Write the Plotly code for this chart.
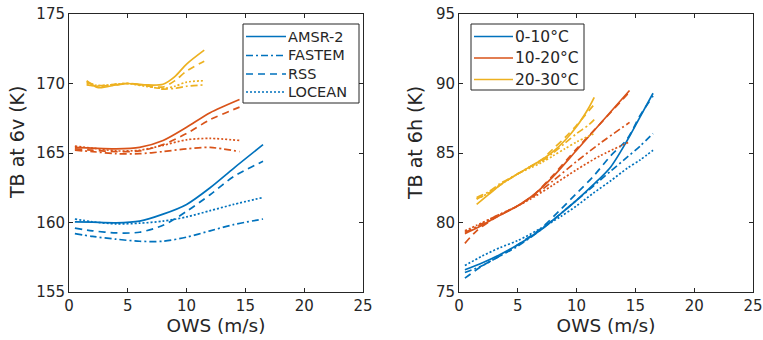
import plotly.graph_objects as go
from plotly.subplots import make_subplots

# ---------------- data ----------------
sensors = ["AMSR-2", "FASTEM", "RSS", "LOCEAN"]
temp_labels = ["0-10°C", "10-20°C", "20-30°C"]

# Left panel: TB at 6v (K)
v_x_cold = [0.5, 2, 4, 6, 8, 10, 12, 14, 16.5]
v_cold_amsr = [160.05, 160.02, 159.98, 160.1, 160.6, 161.3, 162.5, 163.9, 165.6]
v_cold_fastem = [159.2, 159.0, 158.8, 158.65, 158.65, 158.95, 159.4, 159.85, 160.25]
v_cold_rss = [159.6, 159.4, 159.25, 159.3, 159.8, 160.8, 162.0, 163.3, 164.4]
v_cold_locean = [160.25, 160.05, 159.9, 159.95, 160.1, 160.4, 160.85, 161.3, 161.8]

v_x_mid = [0.5, 2, 4, 6, 8, 10, 12, 14.5]
v_mid_amsr = [165.4, 165.35, 165.3, 165.4, 165.9, 166.85, 167.9, 168.85]
v_mid_fastem = [165.2, 165.1, 164.95, 164.95, 165.1, 165.3, 165.4, 165.1]
v_mid_rss = [165.3, 165.2, 165.1, 165.15, 165.6, 166.4, 167.4, 168.3]
v_mid_locean = [165.5, 165.35, 165.15, 165.2, 165.55, 165.95, 166.05, 165.9]

v_x_warm = [1.5, 2.5, 4, 5, 6.5, 8, 9, 10, 11.5]
v_warm_amsr = [170.2, 169.7, 169.9, 170.0, 169.9, 169.95, 170.5, 171.4, 172.4]
v_warm_fastem = [169.9, 169.8, 169.9, 170.0, 169.85, 169.6, 169.65, 169.8, 169.9]
v_warm_rss = [170.1, 169.85, 169.95, 170.0, 169.85, 169.75, 170.2, 170.9, 171.6]
v_warm_locean = [170.0, 169.85, 169.95, 170.0, 169.8, 169.65, 169.8, 170.1, 170.2]

# Right panel: TB at 6h (K)
h_x_cold = [0.5, 2, 3.5, 5, 7, 8.6, 10, 11.4, 12.9, 14.3, 15.4, 16.5]
h_cold_amsr = [76.6, 77.1, 77.7, 78.4, 79.5, 80.6, 81.6, 82.7, 84.0, 85.9, 87.6, 89.3]
h_cold_fastem = [76.4, 76.9, 77.6, 78.3, 79.5, 80.6, 81.6, 82.6, 83.7, 84.7, 85.5, 86.4]
h_cold_rss = [76.0, 76.9, 77.6, 78.4, 79.6, 80.9, 82.1, 83.3, 84.8, 86.0, 87.7, 89.1]
h_cold_locean = [76.9, 77.6, 78.2, 78.7, 79.6, 80.4, 81.2, 82.1, 83.0, 83.9, 84.5, 85.2]

h_x_mid = [0.5, 1.5, 3, 5, 6.5, 8, 10, 12, 14.5]
h_mid_amsr = [79.2, 79.6, 80.3, 81.2, 82.1, 83.3, 85.2, 87.1, 89.5]
h_mid_fastem = [79.3, 79.7, 80.4, 81.2, 82.0, 83.0, 84.4, 85.7, 87.2]
h_mid_rss = [78.5, 79.4, 80.3, 81.2, 82.1, 83.4, 85.3, 87.1, 89.4]
h_mid_locean = [79.4, 79.8, 80.4, 81.2, 81.9, 82.7, 83.8, 84.8, 85.8]

h_x_warm = [1.5, 2.5, 3.5, 5, 6, 7, 8, 9, 10, 11, 11.5]
h_warm_amsr = [81.3, 82.0, 82.7, 83.5, 84.0, 84.5, 85.1, 85.9, 86.9, 88.2, 89.0]
h_warm_fastem = [81.8, 82.2, 82.8, 83.5, 84.0, 84.4, 85.0, 85.7, 86.4, 87.0, 87.4]
h_warm_rss = [81.7, 82.1, 82.7, 83.5, 84.0, 84.5, 85.3, 86.1, 87.0, 88.0, 88.5]
h_warm_locean = [81.7, 82.1, 82.7, 83.5, 83.9, 84.3, 84.8, 85.3, 85.8, 86.2, 86.4]

x_title = "OWS (m/s)"
y_titles = ["TB at 6v (K)", "TB at 6h (K)"]

# ---------------- styles ----------------
colors = ["#0072BD", "#D95319", "#EDB120"]
dashes = {"AMSR-2": "solid", "FASTEM": "7px,3px,2px,3px",
          "RSS": "7px,5px", "LOCEAN": "2px,2px"}
TXT = "#262626"
FONT = "DejaVu Sans"
W, H = 763, 340
ML, MR, MT, MB = 69, 10, 14, 48

fig = make_subplots(rows=1, cols=2, horizontal_spacing=0.1404)

v_groups = [
    (v_x_cold, [v_cold_amsr, v_cold_fastem, v_cold_rss, v_cold_locean]),
    (v_x_mid, [v_mid_amsr, v_mid_fastem, v_mid_rss, v_mid_locean]),
    (v_x_warm, [v_warm_amsr, v_warm_fastem, v_warm_rss, v_warm_locean]),
]
h_groups = [
    (h_x_cold, [h_cold_amsr, h_cold_fastem, h_cold_rss, h_cold_locean]),
    (h_x_mid, [h_mid_amsr, h_mid_fastem, h_mid_rss, h_mid_locean]),
    (h_x_warm, [h_warm_amsr, h_warm_fastem, h_warm_rss, h_warm_locean]),
]

for ci, (xs, series) in enumerate(v_groups):
    for si, ys in enumerate(series):
        name = sensors[si]
        fig.add_trace(go.Scatter(
            x=xs, y=ys, mode="lines", name=name,
            line=dict(color=colors[ci], width=1.7, dash=dashes[name], shape="spline", smoothing=0.8),
            showlegend=False), row=1, col=1)

for ci, (xs, series) in enumerate(h_groups):
    for si, ys in enumerate(series):
        name = sensors[si]
        fig.add_trace(go.Scatter(
            x=xs, y=ys, mode="lines", name=temp_labels[ci] + " " + name,
            line=dict(color=colors[ci], width=1.7, dash=dashes[name], shape="spline", smoothing=0.8),
            showlegend=False), row=1, col=2)

axis_common = dict(showline=True, linecolor=TXT, linewidth=1, mirror="ticks",
                   ticks="inside", ticklen=4, tickcolor=TXT, showgrid=False, zeroline=False,
                   automargin=False,
                   tickfont=dict(family=FONT, size=15, color=TXT))
title_font = dict(family=FONT, size=18.5, color=TXT)

fig.update_xaxes(range=[0, 25], tickvals=[0, 5, 10, 15, 20, 25],
                 title=dict(text=x_title, font=title_font, standoff=2),
                 **axis_common)
fig.update_yaxes(range=[155, 175], tickvals=[155, 160, 165, 170, 175],
                 row=1, col=1, **axis_common)
fig.update_yaxes(range=[75, 95], tickvals=[75, 80, 85, 90, 95],
                 row=1, col=2, **axis_common)

PW, PH = W - ML - MR, H - MT - MB


def px_x(p):
    return (p - ML) / PW


def px_y(p):
    return (H - MB - p) / PH


# y-axis titles (rotated text)
for txt, xc in zip(y_titles, [17, 415]):
    fig.add_annotation(text=txt, xref="paper", yref="paper", x=px_x(xc), y=px_y(143),
                       xanchor="center", yanchor="middle", textangle=-90, showarrow=False,
                       font=dict(family=FONT, size=19, color=TXT))


# ---------------- legends (box, line samples, labels) ----------------
def add_legend(box, line_x, text_x, rows, size):
    x0, y0, x1, y1 = box
    fig.add_shape(type="rect", xref="paper", yref="paper",
                  x0=px_x(x0), x1=px_x(x1), y0=px_y(y1), y1=px_y(y0),
                  line=dict(color=TXT, width=1), fillcolor="white", layer="above")
    for (label, color, dash, yc) in rows:
        fig.add_shape(type="line", xref="paper", yref="paper",
                      x0=px_x(line_x[0]), x1=px_x(line_x[1]), y0=px_y(yc), y1=px_y(yc),
                      line=dict(color=color, width=1.7, dash=dash), layer="above")
        fig.add_annotation(text=label, xref="paper", yref="paper", x=px_x(text_x), y=px_y(yc),
                           xanchor="left", yanchor="middle", showarrow=False, borderpad=0,
                           font=dict(family=FONT, size=size, color=TXT))


add_legend((243, 24, 359, 103), (246, 286), 287,
           [(sensors[i], colors[0], dashes[sensors[i]], yc)
            for i, yc in enumerate([36.5, 55.5, 74, 92])], 14.5)
add_legend((471, 24, 584, 90), (474, 513), 514,
           [(temp_labels[i], colors[i], "solid", yc)
            for i, yc in enumerate([36.5, 58, 79.5])], 15.5)

fig.update_layout(
    width=W, height=H,
    margin=dict(l=ML, r=MR, t=MT, b=MB),
    paper_bgcolor="white", plot_bgcolor="white",
    font=dict(family=FONT, color=TXT),
    showlegend=False,
)

fig.write_html("out.html", config={"displayModeBar": False},
               post_script="document.body.style.margin='0px';")
